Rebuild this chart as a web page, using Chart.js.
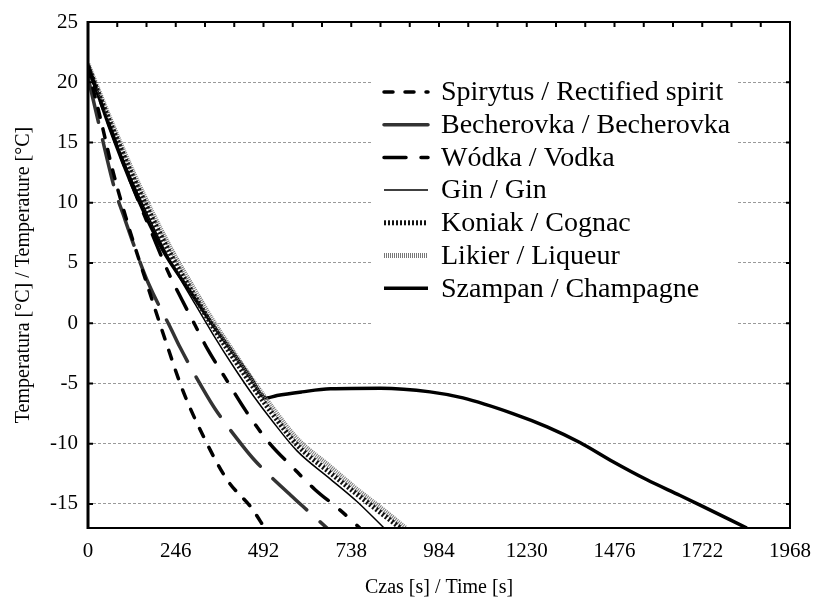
<!DOCTYPE html>
<html>
<head>
<meta charset="utf-8">
<script src="https://cdn.jsdelivr.net/npm/chart.js@4.4.1/dist/chart.umd.min.js"></script>
<style>
  html, body { margin: 0; padding: 0; background: #fff; }
</style>
</head>
<body>
<canvas id="wykres" width="816" height="607"></canvas>
<script>
// dane: czas [s] i temperatura [°C]
const czasSpirytus = [0, 38, 70, 112, 168, 219, 266, 322, 390, 460, 495];
const tempSpirytus = [21.2, 16.6, 12.6, 8.2, 3.0, -1.6, -5.6, -9.3, -13.0, -15.4, -17.0];

const czasBecherovka = [0, 30, 76, 99, 132, 168, 235, 258, 325, 356, 434, 471, 569, 606, 670];
const tempBecherovka = [20.4, 16.6, 11.0, 9.0, 6.2, 3.4, -0.6, -2.0, -5.6, -7.1, -10.2, -11.5, -14.3, -15.3, -17.0];

const czasWodka = [0, 60, 120, 180, 224, 264, 300, 336, 384, 443, 507, 575, 636, 706, 762];
const tempWodka = [21.3, 16.4, 11.7, 7.4, 4.3, 1.9, -0.15, -2.2, -4.5, -7.3, -9.9, -12.0, -13.8, -15.5, -17.0];

const czasGin = [0, 60, 130, 230, 300, 350, 410, 463, 519, 586, 678, 754, 830];
const tempGin = [21.0, 16.4, 11.4, 5.2, 1.6, -0.9, -3.7, -6.0, -8.2, -10.6, -12.9, -14.8, -17.0];

const czasKoniak = [0, 60, 130, 230, 300, 350, 410, 463, 519, 586, 678, 754, 819, 880];
const tempKoniak = [21.3, 16.8, 11.9, 5.8, 2.2, -0.3, -3.0, -5.3, -7.6, -10.1, -12.4, -14.2, -15.7, -17.1];

const czasLikier = [0, 60, 130, 230, 300, 350, 410, 463, 519, 586, 678, 754, 819, 890];
const tempLikier = [21.5, 17.1, 12.3, 6.3, 2.7, 0.2, -2.5, -4.8, -7.1, -9.6, -11.9, -13.8, -15.3, -17.0];

const czasSzampan = [0, 60, 130, 209, 280, 347, 410, 460, 485, 500, 530, 600, 680, 820, 959, 1051, 1191, 1287, 1379, 1472, 1567, 1660, 1716, 1847];
const tempSzampan = [21.5, 16.3, 11.0, 6.1, 2.9, 0.0, -2.6, -4.7, -5.9, -6.2, -6.0, -5.7, -5.45, -5.4, -5.7, -6.2, -7.5, -8.6, -9.9, -11.5, -13.0, -14.3, -15.1, -17.0];

const etykietyX = [0, 246, 492, 738, 984, 1230, 1476, 1722, 1968];
const etykietyY = [-15, -10, -5, 0, 5, 10, 15, 20, 25];

function punkty(czas, temp) {
  return czas.map((t, i) => ({ x: t, y: temp[i] }));
}

const rodzina = '"Liberation Serif", "Times New Roman", serif';
const czcionkaOsi = { family: rodzina, size: 21 };
const czcionkaTytulu = { family: rodzina, size: 20 };

// ramka, kreski podzialki skierowane do srodka i legenda w polu wykresu
const ramkaILegenda = {
  id: 'ramkaILegenda',
  afterDatasetsDraw(chart) {
    const ctx = chart.ctx;
    const a = chart.chartArea;
    const sx = chart.scales.x, sy = chart.scales.y;
    ctx.save();
    ctx.strokeStyle = '#000';
    ctx.setLineDash([]);
    ctx.lineWidth = 2;
    ctx.strokeRect(a.left, a.top, a.right - a.left, a.bottom - a.top);
    ctx.lineWidth = 3;
    ctx.beginPath();
    ctx.moveTo(a.left, a.top - 1);
    ctx.lineTo(a.left, a.bottom + 1);
    ctx.stroke();

    ctx.lineWidth = 2;
    ctx.beginPath();
    for (let v = 0; v <= 1968; v += 82) {
      const px = sx.getPixelForValue(v);
      ctx.moveTo(px, a.top);
      ctx.lineTo(px, a.top + 5);
    }
    etykietyY.forEach(v => {
      const py = sy.getPixelForValue(v);
      ctx.moveTo(a.left, py);
      ctx.lineTo(a.left + 5, py);
      ctx.moveTo(a.right, py);
      ctx.lineTo(a.right - 4, py);
    });
    ctx.stroke();

    // legenda
    ctx.fillStyle = '#fff';
    ctx.fillRect(372, 62, 364, 266);
    ctx.font = '28px ' + rodzina;
    ctx.textBaseline = 'middle';
    chart.data.datasets.forEach((ds, i) => {
      const y = 92 + i * 32.7;
      ctx.beginPath();
      ctx.setLineDash(ds.borderDash || []);
      ctx.lineWidth = ds.borderWidth;
      ctx.strokeStyle = ds.borderColor;
      ctx.lineCap = ds.borderCapStyle || 'butt';
      ctx.moveTo(384, y);
      ctx.lineTo(428, y);
      ctx.stroke();
      ctx.setLineDash([]);
      ctx.fillStyle = '#000';
      ctx.fillText(ds.label, 441, y + 1);
    });
    ctx.restore();
  }
};

new Chart(document.getElementById('wykres').getContext('2d'), {
  type: 'line',
  data: {
    datasets: [
      { label: 'Spirytus / Rectified spirit', data: punkty(czasSpirytus, tempSpirytus),
        borderColor: '#000', borderWidth: 3.5, borderDash: [9, 12], borderCapStyle: 'round' },
      { label: 'Becherovka / Becherovka', data: punkty(czasBecherovka, tempBecherovka),
        borderColor: '#333', borderWidth: 3.5, borderDash: [46, 18], borderCapStyle: 'round' },
      { label: 'Wódka / Vodka', data: punkty(czasWodka, tempWodka),
        borderColor: '#000', borderWidth: 3.5, borderDash: [22, 15, 8, 15], borderCapStyle: 'round' },
      { label: 'Gin / Gin', data: punkty(czasGin, tempGin),
        borderColor: '#000', borderWidth: 1.5 },
      { label: 'Koniak / Cognac', data: punkty(czasKoniak, tempKoniak),
        borderColor: '#111', borderWidth: 5, borderDash: [2, 2] },
      { label: 'Likier / Liqueur', data: punkty(czasLikier, tempLikier),
        borderColor: '#777', borderWidth: 5, borderDash: [1, 1] },
      { label: 'Szampan / Champagne', data: punkty(czasSzampan, tempSzampan),
        borderColor: '#000', borderWidth: 3.5 }
    ]
  },
  options: {
    responsive: false,
    animation: false,
    devicePixelRatio: 1,
    layout: { autoPadding: false, padding: { top: 22, right: 26, left: 0, bottom: 0 } },
    elements: {
      point: { radius: 0 },
      line: { cubicInterpolationMode: 'monotone', fill: false }
    },
    plugins: {
      legend: { display: false },
      tooltip: { enabled: false }
    },
    scales: {
      x: {
        type: 'linear',
        min: 0,
        max: 1968,
        afterBuildTicks: s => { s.ticks = etykietyX.map(v => ({ value: v })); },
        afterFit: s => { s.height = 79; s.paddingLeft = 0; s.paddingRight = 0; },
        ticks: { color: '#000', font: czcionkaOsi, padding: 11, maxRotation: 0,
                 callback: v => String(v) },
        grid: { display: false, drawTicks: false },
        border: { display: false },
        title: { display: true, text: 'Czas [s] / Time [s]', color: '#000', font: czcionkaTytulu,
                 padding: { top: 0, bottom: 7 } }
      },
      y: {
        min: -17,
        max: 25,
        afterBuildTicks: s => { s.ticks = etykietyY.map(v => ({ value: v })); },
        afterFit: s => { s.width = 88; s.paddingTop = 0; s.paddingBottom = 0; },
        ticks: { color: '#000', font: czcionkaOsi, padding: 10, callback: v => String(v) },
        grid: { color: '#9a9a9a', lineWidth: 1, drawTicks: false },
        border: { display: false, dash: [3, 2] },
        title: { display: true, text: 'Temperatura [°C] / Temperature [°C]', color: '#000', font: czcionkaTytulu,
                 padding: { top: 12, bottom: 0 } }
      }
    }
  },
  plugins: [ramkaILegenda]
});
</script>
</body>
</html>
